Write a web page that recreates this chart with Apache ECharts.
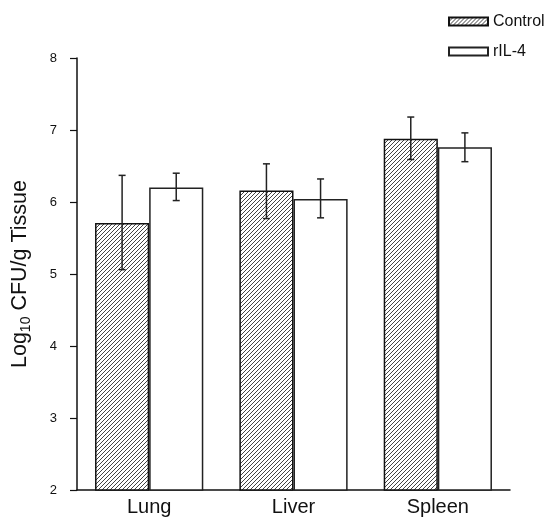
<!DOCTYPE html>
<html>
<head>
<meta charset="utf-8">
<script src="https://cdn.jsdelivr.net/npm/echarts@6/dist/echarts.min.js"></script>
<style>
  html, body { margin: 0; padding: 0; background: #fff; }
  #fig_cfu { width: 548px; height: 520px; }
</style>
</head>
<body>
<div id="fig_cfu"></div>
<script>
// values
var categories = ['Lung', 'Liver', 'Spleen'];
var seriesNames = ['Control', 'rIL-4'];
var controlMean = [5.71, 6.16, 6.88];
var controlLow = [5.06, 5.77, 6.59];
var controlHigh = [6.37, 6.53, 7.18];
var il4Mean = [6.20, 6.04, 6.76];
var il4Low = [6.02, 5.78, 6.56];
var il4High = [6.40, 6.32, 6.96];
var yTicks = [2, 3, 4, 5, 6, 7, 8];

var FONT = '"Liberation Sans", Arial, sans-serif';

// diagonal hatch for the control bars
function makeHatch() {
    var s = 4;
    var c = document.createElement('canvas');
    c.width = s;
    c.height = s;
    var ctx = c.getContext('2d');
    ctx.fillStyle = '#fff';
    ctx.fillRect(0, 0, s, s);
    ctx.strokeStyle = '#444';
    ctx.lineWidth = 1;
    ctx.beginPath();
    ctx.moveTo(0, s); ctx.lineTo(s, 0);
    ctx.moveTo(-1, 1); ctx.lineTo(1, -1);
    ctx.moveTo(s - 1, s + 1); ctx.lineTo(s + 1, s - 1);
    ctx.stroke();
    return c;
}

function errData(low, high) {
    var out = [];
    for (var i = 0; i < low.length; i++) {
        out.push([i, low[i], high[i]]);
    }
    return out;
}

function errRender(side) {
    return function(params, api) {
        var x = api.value(0);
        var lo = api.coord([x, api.value(1)]);
        var hi = api.coord([x, api.value(2)]);
        var bw = api.size([1, 0])[0] * 0.375;
        var cx = lo[0] + side * bw / 2;
        var cap = 3.5;
        var style = { stroke: '#222', lineWidth: 1.5 };
        return {
            type: 'group',
            children: [
                { type: 'line', shape: { x1: cx, y1: lo[1], x2: cx, y2: hi[1] }, style: style },
                { type: 'line', shape: { x1: cx - cap, y1: hi[1], x2: cx + cap, y2: hi[1] }, style: style },
                { type: 'line', shape: { x1: cx - cap, y1: lo[1], x2: cx + cap, y2: lo[1] }, style: style }
            ]
        };
    };
}

var hatch = { image: makeHatch(), repeat: 'repeat' };

var option = {
    animation: false,
    backgroundColor: '#fff',
    textStyle: { fontFamily: FONT },
    legend: {
        orient: 'vertical',
        left: 443,
        top: 8,
        itemWidth: 39,
        itemHeight: 8,
        itemGap: 13,
        icon: 'rect',
        data: seriesNames,
        textStyle: { fontSize: 16, color: '#111', fontFamily: FONT, lineHeight: 17 }
    },
    grid: {
        left: 77,
        right: 38,
        top: 58,
        bottom: 30,
        outerBoundsMode: 'none'
    },
    xAxis: {
        type: 'category',
        data: categories,
        axisLine: { lineStyle: { color: '#111', width: 1.5 } },
        axisTick: { show: false },
        axisLabel: { fontSize: 20, color: '#111', margin: 7, fontFamily: FONT }
    },
    yAxis: {
        type: 'value',
        min: yTicks[0],
        max: yTicks[yTicks.length - 1],
        interval: 1,
        splitLine: { show: false },
        axisLine: { show: true, lineStyle: { color: '#111', width: 1.5 } },
        axisTick: { show: true, length: 7, lineStyle: { color: '#111', width: 1.2 } },
        axisLabel: { fontSize: 13, color: '#111', margin: 20, fontFamily: FONT },
        name: '{a|Log}{b|10}{a| CFU/g Tissue}',
        nameLocation: 'middle',
        nameRotate: 90,
        nameGap: 44,
        nameTextStyle: {
            rich: {
                a: { fontSize: 21.5, color: '#111', lineHeight: 26, fontFamily: FONT },
                b: { fontSize: 14, color: '#111', lineHeight: 14, verticalAlign: 'bottom', fontFamily: FONT }
            }
        }
    },
    series: [
        {
            name: seriesNames[0],
            type: 'bar',
            data: controlMean,
            barGap: '0%',
            barCategoryGap: '25%',
            itemStyle: { color: hatch, borderColor: '#111', borderWidth: 1.5 }
        },
        {
            name: seriesNames[1],
            type: 'bar',
            data: il4Mean,
            barGap: '0%',
            barCategoryGap: '25%',
            itemStyle: { color: '#fff', borderColor: '#222', borderWidth: 1.5 }
        },
        {
            type: 'custom',
            data: errData(controlLow, controlHigh),
            encode: { x: 0, y: [1, 2] },
            renderItem: errRender(-1),
            z: 5
        },
        {
            type: 'custom',
            data: errData(il4Low, il4High),
            encode: { x: 0, y: [1, 2] },
            renderItem: errRender(1),
            z: 5
        }
    ]
};

var chart = echarts.init(document.getElementById('fig_cfu'));
chart.setOption(option);
</script>
</body>
</html>
